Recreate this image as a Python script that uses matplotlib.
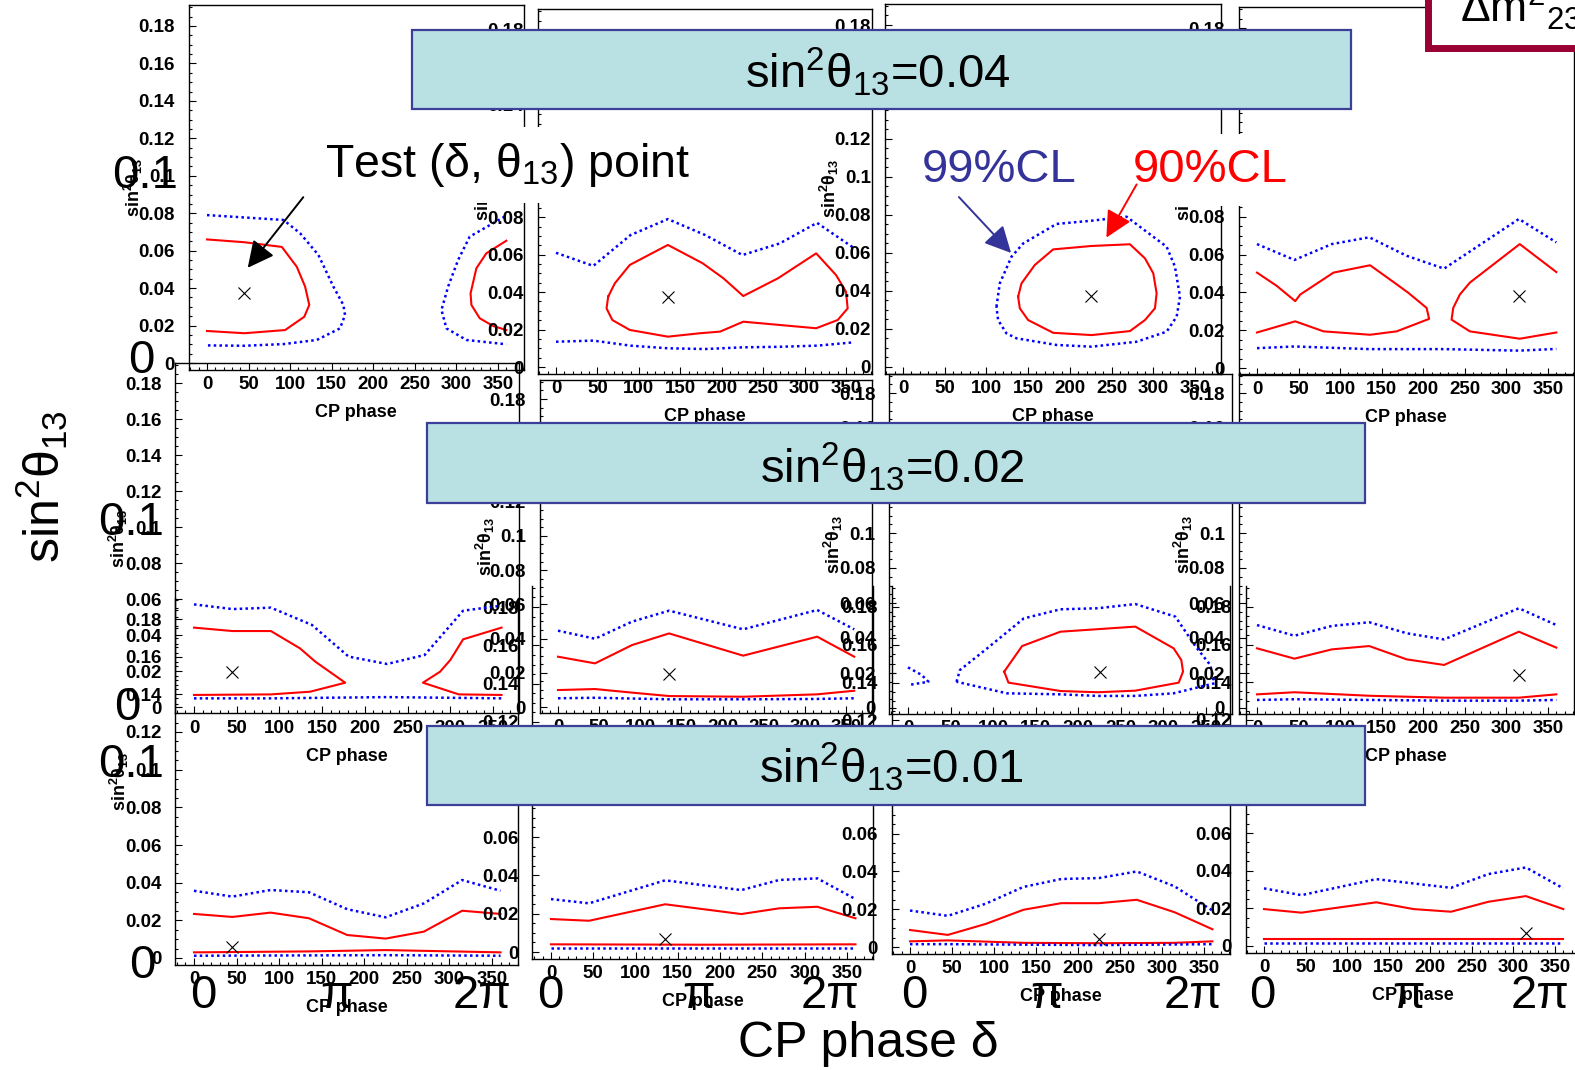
import matplotlib
matplotlib.use('Agg')
import matplotlib.pyplot as plt
from matplotlib.patches import Rectangle, FancyArrowPatch
from matplotlib.ticker import MultipleLocator, FuncFormatter

plt.rcParams['font.family'] = ['Liberation Sans', 'DejaVu Sans']
plt.rcParams['mathtext.fontset'] = 'custom'
plt.rcParams['mathtext.rm'] = 'Liberation Sans:weight=normal'
plt.rcParams['mathtext.it'] = 'Liberation Sans:italic:weight=normal'
plt.rcParams['mathtext.bf'] = 'Liberation Sans:weight=bold'
# ROOT panels use bold Helvetica for all axis text
plt.rcParams['font.weight'] = 'bold'
plt.rcParams['axes.labelweight'] = 'bold'

W, H = 1575, 1070

# ---- data: (CP phase [deg], sin^2 theta13) ----
# row 1: true sin^2 theta13 = 0.04
r1c0_red_a = [(0, .066), (45, .0645), (90, .062), (108, .0514), (118, .0408), (123, .031),
              (117, .0247), (94, .0176), (45, .0159), (0, .0171)]
r1c0_red_b = [(360, .0653), (336, .0586), (324, .0506), (317, .0372), (318, .031), (328, .0239),
              (344, .0198), (360, .0176)]
r1c0_blue_a = [(0, .079), (92, .0764), (112, .0693), (134, .0577), (152, .0408), (164, .031),
               (166, .0256), (160, .0185), (132, .0123), (92, .0101), (45, .0092), (0, .0094)]
r1c0_blue_b = [(358, .0782), (316, .0675), (302, .055), (290, .0408), (282, .0283), (288, .0185),
               (312, .0123), (360, .010)]

r1c1_red = [(63, .0376), (71, .0447), (89, .0545), (135, .0652), (177, .0554), (202, .0474),
            (226, .0379), (268, .0474), (314, .0607), (338, .0491), (350, .0402), (352, .0313),
            (340, .0251), (314, .0207), (226, .0242), (198, .0189), (173, .018), (135, .0162),
            (89, .0198), (68, .0251), (61, .0313), (63, .0376)]
r1c1_blue_up = [(0, .061), (45, .054), (90, .0705), (135, .079), (180, .0705), (225, .0598),
                (270, .066), (315, .077), (360, .0634)]
r1c1_blue_lo = [(0, .0135), (45, .0141), (90, .0114), (135, .010), (180, .0096), (225, .0105),
                (270, .0108), (315, .0114), (360, .0132)]

r1c2_red = [(138, .037), (142, .044), (158, .0537), (180, .0619), (226, .0637), (272, .0646),
            (290, .0572), (300, .0493), (304, .0388), (302, .0309), (290, .0247), (272, .0189),
            (226, .0168), (180, .018), (150, .0247), (140, .0309), (138, .037)]
r1c2_blue = [(112, .0317), (116, .044), (130, .058), (144, .065), (184, .0753), (226, .077),
             (268, .0791), (284, .0738), (316, .0633), (326, .0528), (332, .037), (328, .0265),
             (316, .0186), (280, .0133), (226, .0107), (184, .0116), (136, .0151), (124, .0177),
             (114, .0247), (112, .0317)]

r1c3_red_a = [(0, .0505), (24, .0434), (46, .0354), (52, .0389), (92, .0505), (136, .0544),
              (168, .0443), (182, .0398), (204, .0318), (207, .026), (168, .0194), (136, .0176),
              (80, .0194), (46, .0247), (0, .0188)]
r1c3_red_b = [(360, .0508), (316, .0656), (256, .0452), (244, .0389), (236, .0318), (234, .0256),
              (256, .0194), (316, .0155), (360, .0188)]
r1c3_blue_up = [(0, .0656), (45, .0572), (90, .0656), (135, .0692), (180, .0594), (225, .0526),
                (315, .0789), (360, .0665)]
r1c3_blue_lo = [(0, .0105), (45, .0114), (135, .010), (225, .010), (315, .0092), (360, .0101)]

# row 2: true sin^2 theta13 = 0.02
r2c0_red_a = [(0, .0441), (45, .0422), (90, .0422), (124, .0326), (142, .0252), (177, .0135),
              (136, .0085), (90, .007), (0, .0067)]
r2c0_red_b = [(360, .0441), (315, .0376), (300, .0261), (288, .0196), (268, .0135), (310, .007),
              (360, .0067)]
r2c0_blue_up = [(0, .057), (45, .0544), (90, .0552), (138, .0456), (181, .028), (226, .0239),
                (270, .0289), (315, .0535), (360, .0563)]
r2c0_blue_lo = [(0, .0048), (90, .0048), (226, .0055), (360, .0048)]

r2c1_red_up = [(0, .0294), (45, .0255), (90, .0362), (135, .043), (225, .030), (315, .0411), (360, .0294)]
r2c1_red_lo = [(0, .0099), (45, .0105), (90, .0084), (135, .0064), (225, .006), (315, .0074), (360, .0095)]
r2c1_blue_up = [(0, .0446), (45, .0399), (90, .0499), (135, .0563), (225, .0454), (315, .0567), (360, .0454)]
r2c1_blue_lo = [(0, .0051), (45, .0054), (135, .0045), (225, .0045), (315, .0047), (360, .0051)]

r2c2_red = [(113, .0208), (134, .0354), (179, .0436), (267, .0465), (312, .0341), (321, .0274),
            (323, .0208), (318, .0145), (267, .0099), (223, .009), (179, .0097), (118, .0145), (113, .0208)]
r2c2_blue_a = [(57, .015), (61, .0217), (93, .0341), (136, .0512), (179, .0564), (223, .057),
               (267, .0594), (314, .0522), (338, .035), (355, .0246), (360, .0141), (312, .0084),
               (267, .0069), (223, .0069), (179, .0078), (116, .0084), (57, .015)]
r2c2_blue_b = [(0, .0232), (16, .0189), (24, .015), (0, .0131)]

r2c3_red_up = [(0, .0341), (45, .0282), (90, .0335), (135, .0354), (180, .0278), (225, .0246),
               (315, .0436), (360, .0345)]
r2c3_red_lo = [(0, .0078), (45, .009), (135, .007), (225, .0059), (315, .0059), (360, .0078)]
r2c3_blue_up = [(0, .0474), (45, .0413), (90, .0469), (135, .049), (180, .0427), (225, .0392),
                (315, .057), (360, .0474)]
r2c3_blue_lo = [(0, .0046), (45, .005), (135, .0046), (225, .0042), (315, .0042), (360, .0046)]

# row 3: true sin^2 theta13 = 0.01
r3c0_red_up = [(0, .0234), (45, .0218), (90, .0241), (135, .0211), (180, .0122), (225, .0103),
               (270, .014), (315, .0251), (360, .0234)]
r3c0_red_lo = [(0, .003), (135, .0035), (225, .0042), (360, .003)]
r3c0_blue_up = [(0, .0357), (45, .0326), (90, .0361), (135, .0349), (180, .0259), (225, .0216),
                (270, .029), (315, .0414), (360, .0357)]
r3c0_blue_lo = [(0, .0012), (225, .0015), (360, .0012)]

r3c1_red_up = [(0, .0172), (45, .0163), (135, .0249), (225, .0198), (270, .0228), (315, .0236), (360, .0176)]
r3c1_red_lo = [(0, .004), (180, .0038), (360, .004)]
r3c1_blue_up = [(0, .0276), (45, .0254), (135, .0374), (225, .0323), (270, .0376), (315, .0384), (360, .0276)]
r3c1_blue_lo = [(0, .0019), (360, .0019)]

r3c2_red_up = [(0, .009), (45, .0064), (90, .0122), (135, .0197), (180, .0232), (225, .0232),
               (270, .025), (315, .0184), (360, .0094)]
r3c2_red_lo = [(0, .003), (45, .0035), (135, .0022), (225, .002), (315, .0022), (360, .003)]
r3c2_blue_up = [(0, .0193), (45, .0165), (90, .0229), (135, .0318), (180, .036), (225, .0365),
                (270, .040), (315, .0321), (360, .0193)]
r3c2_blue_lo = [(0, .0015), (45, .0015), (225, .001), (360, .0015)]

r3c3_red_up = [(0, .0196), (45, .0177), (135, .0232), (180, .0196), (225, .0182), (270, .0235),
               (315, .0265), (360, .0196)]
r3c3_red_lo = [(0, .0037), (360, .0037)]
r3c3_blue_up = [(0, .0306), (45, .027), (135, .0355), (225, .0309), (270, .0382), (315, .0417), (360, .0306)]
r3c3_blue_lo = [(0, .0018), (360, .0018)]

# test points (delta, sin^2 theta13) as drawn
true_delta = [45, 135, 225, 315]
true_s2 = [[.0372, .0376, .0374, .038], [.0196, .0193, .0208, .0189], [.006, .0066, .0045, .0067]]

red_curves = [
    [[r1c0_red_a, r1c0_red_b], [r1c1_red], [r1c2_red], [r1c3_red_a, r1c3_red_b]],
    [[r2c0_red_a, r2c0_red_b], [r2c1_red_up, r2c1_red_lo], [r2c2_red], [r2c3_red_up, r2c3_red_lo]],
    [[r3c0_red_up, r3c0_red_lo], [r3c1_red_up, r3c1_red_lo], [r3c2_red_up, r3c2_red_lo], [r3c3_red_up, r3c3_red_lo]],
]
blue_curves = [
    [[r1c0_blue_a, r1c0_blue_b], [r1c1_blue_up, r1c1_blue_lo], [r1c2_blue], [r1c3_blue_up, r1c3_blue_lo]],
    [[r2c0_blue_up, r2c0_blue_lo], [r2c1_blue_up, r2c1_blue_lo], [r2c2_blue_a, r2c2_blue_b], [r2c3_blue_up, r2c3_blue_lo]],
    [[r3c0_blue_up, r3c0_blue_lo], [r3c1_blue_up, r3c1_blue_lo], [r3c2_blue_up, r3c2_blue_lo], [r3c3_blue_up, r3c3_blue_lo]],
]

box_labels = ['0.04', '0.02', '0.01']

# ---- layout (pixels of the pasted panels: x of 0 and 350 deg, y of 0 and 0.18) ----
PANEL_PX = [
    [(207, 498, 363, 26), (556, 846, 367, 30), (903, 1195, 367, 25), (1257, 1548, 368, 28)],
    [(194, 493, 707, 383), (558, 846, 707, 399), (908, 1206, 708, 393), (1257, 1548, 708, 393)],
    [(194, 492, 958, 619), (551, 847, 952, 607), (910, 1204, 947, 607), (1264, 1555, 946, 607)],
]
XLIM = (-22, 381)
YLIM = (-0.0035, 0.191)


def panel_rect(x0, x350, y0, y18):
    sx = (x350 - x0) / 350.0
    sy = (y0 - y18) / 0.18
    left = x0 + XLIM[0] * sx
    right = x0 + XLIM[1] * sx
    top = y0 - YLIM[1] * sy
    bottom = y0 - YLIM[0] * sy
    return [left / W, 1 - bottom / H, (right - left) / W, (bottom - top) / H]


def ytick_fmt(v, _):
    if abs(v) < 1e-9:
        return '0'
    return '%g' % round(v, 3)


fig = plt.figure(figsize=(W / 100, H / 100), dpi=100)
fig.patch.set_facecolor('white')

for r in range(3):
    for c in range(4):
        ax = fig.add_axes(panel_rect(*PANEL_PX[r][c]))
        ax.set_zorder((2 - r) * 10 + c)
        ax.set_facecolor('none')
        for curve in red_curves[r][c]:
            ax.plot([p[0] for p in curve], [p[1] for p in curve], color='red', lw=1.5)
        for curve in blue_curves[r][c]:
            ax.plot([p[0] for p in curve], [p[1] for p in curve], color='blue', lw=1.8,
                    linestyle=(0, (1, 1.3)))
        ax.plot([true_delta[c]], [true_s2[r][c]], ls='none', marker='x', ms=8, mew=0.8, color='black')
        ax.set_xlim(*XLIM)
        ax.set_ylim(*YLIM)
        ax.xaxis.set_major_locator(MultipleLocator(50))
        ax.xaxis.set_minor_locator(MultipleLocator(10))
        ax.yaxis.set_major_locator(MultipleLocator(0.02))
        ax.yaxis.set_minor_locator(MultipleLocator(0.005))
        ax.yaxis.set_major_formatter(FuncFormatter(ytick_fmt))
        ax.tick_params(which='both', direction='in', top=False, right=False, labelsize=13.5)
        ax.tick_params(which='major', length=5, width=0.8)
        ax.tick_params(which='minor', length=2.5, width=0.8)
        ax.tick_params(axis='y', pad=10)
        ax.tick_params(axis='x', pad=4.5)
        for sp in ax.spines.values():
            sp.set_linewidth(1.0)
        if r == 2:
            ax.spines['top'].set_visible(False)
        ax.set_xlabel('CP phase', fontsize=13, labelpad=8)
        ax.set_ylabel(r'sin$^\mathbf{2}$θ$_\mathbf{13}$', fontsize=13)
        ax.yaxis.set_label_coords(-0.13, 0.5)


def fpt(x, y):
    return (x / W, 1 - y / H)


def ftext(x, y, s, **kw):
    z = kw.pop('zorder', 110)
    kw.setdefault('fontweight', 'normal')
    return fig.text(x / W, 1 - y / H, s, zorder=z, **kw)


# teal boxes with the true sin^2 theta13
boxes_px = [(412, 30, 1351, 109), (427, 423, 1365, 503), (427, 726, 1365, 805)]
box_text_px = [(878, 88), (892, 483), (891, 783)]
for (x1, y1, x2, y2), (tx, ty), lab in zip(boxes_px, box_text_px, box_labels):
    fig.add_artist(Rectangle(fpt(x1, y2), (x2 - x1) / W, (y2 - y1) / H, transform=fig.transFigure,
                             facecolor='#b9e0e3', edgecolor='#3b3f98', lw=1.6, zorder=100))
    ftext(tx, ty, r'sin$^2$θ$_{13}$=' + lab, fontsize=34, ha='center', va='baseline')

# annotations
white_box = dict(boxstyle='square,pad=0.3', facecolor='white', edgecolor='none')
ftext(325, 177, r'Test (δ, θ$_{13}$) point', fontsize=33.5, ha='left', va='baseline', bbox=white_box)
ftext(922, 182, '99%CL', fontsize=34, color='#333399', ha='left', va='baseline', bbox=white_box)
ftext(1133, 182, '90%CL', fontsize=34, color='red', ha='left', va='baseline', bbox=white_box)

arrows = [((305, 195), (246, 270), 'black'), ((957, 195), (1013, 255), '#333399'),
          ((1138, 182), (1105, 240), 'red')]
for tail, head, col in arrows:
    fig.add_artist(FancyArrowPatch(fpt(*tail), fpt(*head), transform=fig.transFigure,
                                   arrowstyle='-|>,head_length=0.9,head_width=0.45', mutation_scale=18,
                                   lw=1.4, color=col, zorder=115))

# delta m^2 box (cut at the corner of the slide)
fig.add_artist(Rectangle(fpt(1428, 48), 200 / W, 80 / H, transform=fig.transFigure,
                         facecolor='white', edgecolor='#990033', lw=5, zorder=105))
ftext(1460, 22, r'Δm$^2$$_{23}$', fontsize=32, ha='left', va='baseline', zorder=106)

# big axis labels of the slide
ftext(42, 487, r'sin$^2$θ$_{13}$', fontsize=36, rotation=90, ha='center', va='center')
ftext(868, 1057, 'CP phase δ', fontsize=36, ha='center', va='baseline')
for x, y in [(145, 176), (131, 523), (131, 765)]:
    ftext(x, y, '0.1', fontsize=34, ha='center', va='center')
for x, y in [(141, 361), (127, 708), (142, 966)]:
    ftext(x, y, '0', fontsize=34, ha='center', va='center')
pi_px = [(203, 336, 482), (550, 698, 830), (914, 1047, 1193), (1262, 1408, 1540)]
for xs in pi_px:
    for x, s in zip(xs, ['0', 'π', '2π']):
        ftext(x, 1008, s, fontsize=34, ha='center', va='baseline')

fig.savefig('out.png', dpi=100, facecolor='white')
